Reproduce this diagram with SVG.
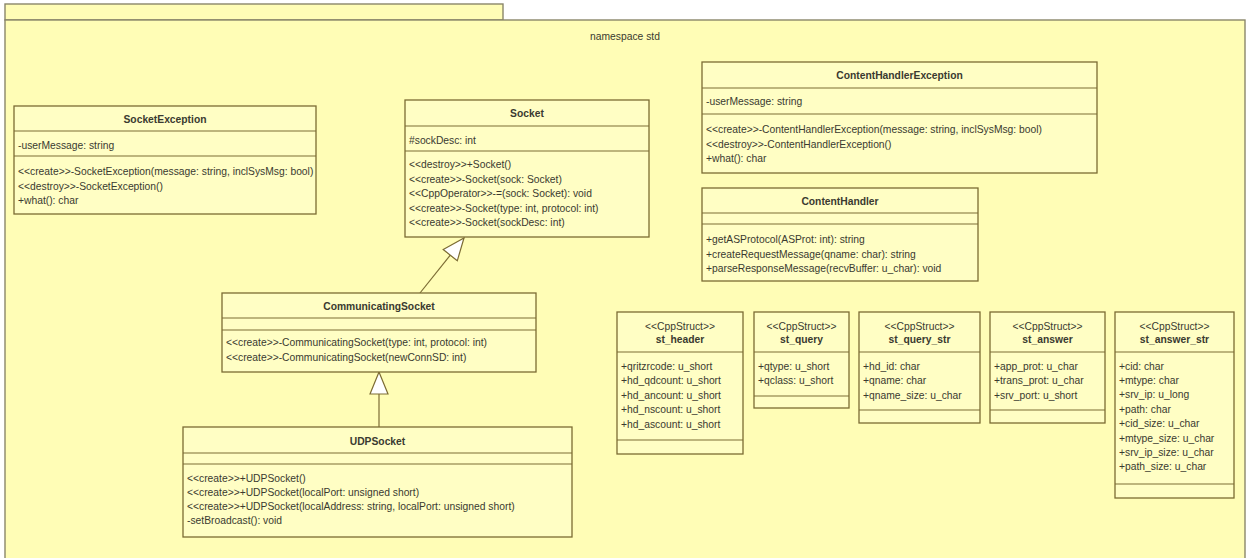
<svg xmlns="http://www.w3.org/2000/svg" width="1249" height="558" viewBox="0 0 1249 558">
  <style>
    .pkg { fill: #FFFDB6; stroke: #8A866A; stroke-width: 1.4; }
    .box { fill: #FFFEC4; stroke: #7C6C34; stroke-width: 1.3; }
    .sep { stroke: #7C6C34; stroke-width: 1.2; }
    .t { font-family: "Liberation Sans", Arial, sans-serif; font-size: 10.3px; fill: #3A3A30; }
    .h { font-weight: bold; text-anchor: middle; }
    .c { text-anchor: middle; }
    .gen { fill: none; stroke: #7C6C34; stroke-width: 1.2; }
  </style>
  <defs>
    <marker id="inherit" viewBox="0 0 24 20" refX="23" refY="10" markerWidth="24" markerHeight="20" markerUnits="userSpaceOnUse" orient="auto">
      <path d="M1,1 L23,10 L1,19 Z" fill="#FFFFFF" stroke="#7C6C34" stroke-width="1.2"/>
    </marker>
  </defs>

  <rect x="0" y="0" width="1249" height="558" fill="#FFFFFF"/>

  <!-- package frame -->
  <g id="namespace-std">
    <rect class="pkg" x="5" y="4" width="498" height="16"/>
    <rect class="pkg" x="5" y="20" width="1240" height="545"/>
    <text class="t c" x="625" y="40" font-size="9.5">namespace std</text>
  </g>

  <!-- generalizations -->
  <g id="connectors">
    <path class="gen" d="M379,427 L379,372" marker-end="url(#inherit)"/>
    <path class="gen" d="M420,293 L464,238" marker-end="url(#inherit)"/>
  </g>

  <g id="SocketException">
    <rect class="box" x="14" y="106" width="302" height="108"/>
    <text class="t h" x="165" y="123">SocketException</text>
    <line class="sep" x1="14" y1="131" x2="316" y2="131"/>
    <text class="t" x="18" y="149">-userMessage: string</text>
    <line class="sep" x1="14" y1="156" x2="316" y2="156"/>
    <text class="t" x="18" y="175">&lt;&lt;create&gt;&gt;-SocketException(message: string, inclSysMsg: bool)</text>
    <text class="t" x="18" y="189.5">&lt;&lt;destroy&gt;&gt;-SocketException()</text>
    <text class="t" x="18" y="204">+what(): char</text>
  </g>

  <g id="Socket">
    <rect class="box" x="405" y="100" width="244" height="137"/>
    <text class="t h" x="527" y="117">Socket</text>
    <line class="sep" x1="405" y1="126" x2="649" y2="126"/>
    <text class="t" x="409" y="144">#sockDesc: int</text>
    <line class="sep" x1="405" y1="151" x2="649" y2="151"/>
    <text class="t" x="409" y="168">&lt;&lt;destroy&gt;&gt;+Socket()</text>
    <text class="t" x="409" y="182.5">&lt;&lt;create&gt;&gt;-Socket(sock: Socket)</text>
    <text class="t" x="409" y="197">&lt;&lt;CppOperator&gt;&gt;-=(sock: Socket): void</text>
    <text class="t" x="409" y="211.5">&lt;&lt;create&gt;&gt;-Socket(type: int, protocol: int)</text>
    <text class="t" x="409" y="226">&lt;&lt;create&gt;&gt;-Socket(sockDesc: int)</text>
  </g>

  <g id="ContentHandlerException">
    <rect class="box" x="702" y="62" width="395" height="111"/>
    <text class="t h" x="899.5" y="79">ContentHandlerException</text>
    <line class="sep" x1="702" y1="88" x2="1097" y2="88"/>
    <text class="t" x="706" y="105">-userMessage: string</text>
    <line class="sep" x1="702" y1="114" x2="1097" y2="114"/>
    <text class="t" x="706" y="133">&lt;&lt;create&gt;&gt;-ContentHandlerException(message: string, inclSysMsg: bool)</text>
    <text class="t" x="706" y="147.5">&lt;&lt;destroy&gt;&gt;-ContentHandlerException()</text>
    <text class="t" x="706" y="162">+what(): char</text>
  </g>

  <g id="ContentHandler">
    <rect class="box" x="702" y="188" width="276" height="93"/>
    <text class="t h" x="840" y="205">ContentHandler</text>
    <line class="sep" x1="702" y1="213" x2="978" y2="213"/>
    <line class="sep" x1="702" y1="224" x2="978" y2="224"/>
    <text class="t" x="706" y="243">+getASProtocol(ASProt: int): string</text>
    <text class="t" x="706" y="257.5">+createRequestMessage(qname: char): string</text>
    <text class="t" x="706" y="272">+parseResponseMessage(recvBuffer: u_char): void</text>
  </g>

  <g id="CommunicatingSocket">
    <rect class="box" x="222" y="293" width="314" height="79"/>
    <text class="t h" x="379" y="310">CommunicatingSocket</text>
    <line class="sep" x1="222" y1="318" x2="536" y2="318"/>
    <line class="sep" x1="222" y1="330" x2="536" y2="330"/>
    <text class="t" x="226" y="346">&lt;&lt;create&gt;&gt;-CommunicatingSocket(type: int, protocol: int)</text>
    <text class="t" x="226" y="360.5">&lt;&lt;create&gt;&gt;-CommunicatingSocket(newConnSD: int)</text>
  </g>

  <g id="UDPSocket">
    <rect class="box" x="183" y="427" width="389" height="110"/>
    <text class="t h" x="377.5" y="445">UDPSocket</text>
    <line class="sep" x1="183" y1="453" x2="572" y2="453"/>
    <line class="sep" x1="183" y1="464" x2="572" y2="464"/>
    <text class="t" x="187" y="482">&lt;&lt;create&gt;&gt;+UDPSocket()</text>
    <text class="t" x="187" y="496">&lt;&lt;create&gt;&gt;+UDPSocket(localPort: unsigned short)</text>
    <text class="t" x="187" y="510">&lt;&lt;create&gt;&gt;+UDPSocket(localAddress: string, localPort: unsigned short)</text>
    <text class="t" x="187" y="524">-setBroadcast(): void</text>
  </g>

  <g id="st_header">
    <rect class="box" x="617" y="312" width="126" height="142"/>
    <text class="t c" x="680" y="329.5">&lt;&lt;CppStruct&gt;&gt;</text>
    <text class="t h" x="680" y="343">st_header</text>
    <line class="sep" x1="617" y1="352" x2="743" y2="352"/>
    <text class="t" x="621" y="369.5">+qritzrcode: u_short</text>
    <text class="t" x="621" y="384">+hd_qdcount: u_short</text>
    <text class="t" x="621" y="398.5">+hd_ancount: u_short</text>
    <text class="t" x="621" y="413">+hd_nscount: u_short</text>
    <text class="t" x="621" y="427.5">+hd_ascount: u_short</text>
    <line class="sep" x1="617" y1="440" x2="743" y2="440"/>
  </g>

  <g id="st_query">
    <rect class="box" x="754" y="312" width="95" height="96"/>
    <text class="t c" x="801.5" y="329.5">&lt;&lt;CppStruct&gt;&gt;</text>
    <text class="t h" x="801.5" y="343">st_query</text>
    <line class="sep" x1="754" y1="352" x2="849" y2="352"/>
    <text class="t" x="758" y="369.5">+qtype: u_short</text>
    <text class="t" x="758" y="384">+qclass: u_short</text>
    <line class="sep" x1="754" y1="396" x2="849" y2="396"/>
  </g>

  <g id="st_query_str">
    <rect class="box" x="859" y="312" width="121" height="111"/>
    <text class="t c" x="919.5" y="329.5">&lt;&lt;CppStruct&gt;&gt;</text>
    <text class="t h" x="919.5" y="343">st_query_str</text>
    <line class="sep" x1="859" y1="352" x2="980" y2="352"/>
    <text class="t" x="863" y="369.5">+hd_id: char</text>
    <text class="t" x="863" y="384">+qname: char</text>
    <text class="t" x="863" y="398.5">+qname_size: u_char</text>
    <line class="sep" x1="859" y1="410" x2="980" y2="410"/>
  </g>

  <g id="st_answer">
    <rect class="box" x="990" y="312" width="115" height="111"/>
    <text class="t c" x="1047.5" y="329.5">&lt;&lt;CppStruct&gt;&gt;</text>
    <text class="t h" x="1047.5" y="343">st_answer</text>
    <line class="sep" x1="990" y1="352" x2="1105" y2="352"/>
    <text class="t" x="994" y="369.5">+app_prot: u_char</text>
    <text class="t" x="994" y="384">+trans_prot: u_char</text>
    <text class="t" x="994" y="398.5">+srv_port: u_short</text>
    <line class="sep" x1="990" y1="410" x2="1105" y2="410"/>
  </g>

  <g id="st_answer_str">
    <rect class="box" x="1115" y="312" width="119" height="186"/>
    <text class="t c" x="1174.5" y="329.5">&lt;&lt;CppStruct&gt;&gt;</text>
    <text class="t h" x="1174.5" y="343">st_answer_str</text>
    <line class="sep" x1="1115" y1="352" x2="1234" y2="352"/>
    <text class="t" x="1119" y="369.5">+cid: char</text>
    <text class="t" x="1119" y="383.9">+mtype: char</text>
    <text class="t" x="1119" y="398.3">+srv_ip: u_long</text>
    <text class="t" x="1119" y="412.7">+path: char</text>
    <text class="t" x="1119" y="427.1">+cid_size: u_char</text>
    <text class="t" x="1119" y="441.5">+mtype_size: u_char</text>
    <text class="t" x="1119" y="455.9">+srv_ip_size: u_char</text>
    <text class="t" x="1119" y="470.3">+path_size: u_char</text>
    <line class="sep" x1="1115" y1="484" x2="1234" y2="484"/>
  </g>
</svg>
